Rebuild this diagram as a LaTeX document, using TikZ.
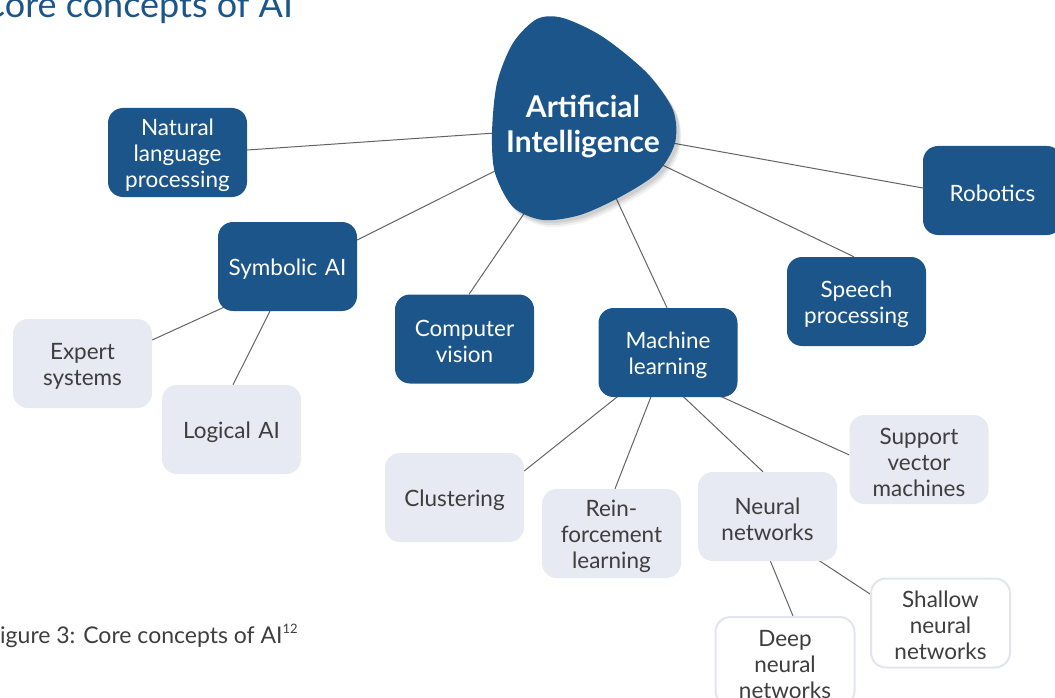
\documentclass[tikz,border=0pt]{standalone}
\usepackage{fontspec}
\setmainfont{Lato}
\usetikzlibrary{calc,backgrounds}
\definecolor{dkblue}{RGB}{27,85,137}
\definecolor{ltfill}{RGB}{231,233,243}
\definecolor{ltborder}{RGB}{226,229,240}
\definecolor{txtgray}{RGB}{62,62,62}
\definecolor{edgegray}{RGB}{100,100,100}
\tikzset{
  basebox/.style={rounded corners=15pt, minimum width=139pt, minimum height=89pt,
    text width=135pt, align=center, inner sep=0pt, font=\fontsize{22.5}{26}\selectfont,
    execute at begin node={\rule{0pt}{21.5pt}}},
  darkbox/.style={basebox, fill=dkblue, text=white},
  lightbox/.style={basebox, fill=ltfill, text=txtgray},
  whitebox/.style={basebox, fill=white, draw=ltborder, line width=2pt, text=txtgray},
  conn/.style={draw=edgegray, line width=1pt}
}
\begin{document}
\begin{tikzpicture}[x=1pt,y=-1pt]
\useasboundingbox (0,0) rectangle (1055,698);
\clip (0,0) rectangle (1055,698);
% title and caption
\node[anchor=base west, inner sep=0pt, text=dkblue, font=\fontsize{36}{42}\selectfont] (title) at (-19,18) {Core concepts of AI};
\node[anchor=base west, inner sep=0pt, text=txtgray, font=\fontsize{23}{27}\selectfont] (caption) at (-13,643) {Figure 3: Core concepts of AI\textsuperscript{\fontsize{13}{13}\selectfont 12}};
% blob shadow and blob
\foreach \dx/\dy/\op in {5/7/0.05,4/5/0.07,3/3/0.08}{
  \fill[black, opacity=\op, shift={(\dx,\dy)}] plot[smooth cycle] coordinates {(563,18) (603,37) (647,73) (673,110) (675,143) (657,173) (620,197) (580,215) (543,220) (513,207) (495,173) (492,133) (497,83) (513,43) (537,19)};
}
\fill[dkblue] plot[smooth cycle] coordinates {(563,18) (603,37) (647,73) (673,110) (675,143) (657,173) (620,197) (580,215) (543,220) (513,207) (495,173) (492,133) (497,83) (513,43) (537,19)};
\node[align=center, text=white, inner sep=0pt, font=\bfseries\fontsize{30}{35}\selectfont] (ai) at (583,127) {Artificial\\Intelligence};
% dark nodes
\node[darkbox] (nlp) at (177.5,152.5) {Natural\\language\\processing};
\node[darkbox] (sym) at (287.5,266.5) {Symbolic AI};
\node[darkbox] (rob) at (992.5,190.5) {Robotics};
\node[darkbox] (spe) at (856.5,301.5) {Speech\\processing};
\node[darkbox] (cv) at (464.5,339) {Computer\\vision};
\node[darkbox] (ml) at (668,352.5) {Machine\\learning};
% light nodes
\node[lightbox] (exp) at (82.5,363.5) {Expert\\systems};
\node[lightbox] (log) at (231.5,429.5) {Logical AI};
\node[lightbox] (clu) at (454.5,497.5) {Clustering};
\node[lightbox] (rein) at (611.5,533.5) {Rein-\\forcement\\learning};
\node[lightbox] (nn) at (767.5,516.5) {Neural\\networks};
\node[lightbox] (svm) at (919,459.5) {Support\\vector\\machines};
% white nodes
\node[whitebox] (sha) at (940.5,623) {Shallow\\neural\\networks};
\node[whitebox] (deep) at (785,661.5) {Deep\\neural\\networks};
% connectors
\begin{scope}[on background layer]
\draw[conn] (ai.center) -- ($(nlp.east)+(0,-2.5)$);
\draw[conn] (ai.center) -- ($(sym.east)+(0,-26.5)$);
\draw[conn] (ai.center) -- ($(cv.north)+(4.5,0)$);
\draw[conn] (ai.center) -- ($(ml.north)+(-1,0)$);
\draw[conn] (ai.center) -- ($(spe.north)+(-2.5,0)$);
\draw[conn] (ai.center) -- ($(rob.west)+(0,-2.5)$);
\draw[conn] ($(sym.south)+(-40.5,-14.5)$) -- ($(exp.east)+(0,-23.5)$);
\draw[conn] ($(sym.south)+(-6.5,-22)$) -- ($(log.north)+(1.5,0)$);
\draw[conn] ($(ml.south)+(-32.4,-15)$) -- ($(clu.east)+(0,-26.5)$);
\draw[conn] ($(ml.south)+(-10,-18.5)$) -- ($(rein.north)+(3.5,0)$);
\draw[conn] ($(ml.south)+(0,-15)$) -- ($(nn.north)+(-4.5,0)$);
\draw[conn] ($(ml.south)+(34.8,-9)$) -- ($(svm.west)+(0,-4.5)$);
\draw[conn] ($(nn.center)+(-15.5,0)$) -- ($(deep.north)+(8,0)$);
\draw[conn] ($(nn.center)+(-15.5,0)$) -- ($(sha.west)+(0,-29)$);
\end{scope}
\end{tikzpicture}
\end{document}
